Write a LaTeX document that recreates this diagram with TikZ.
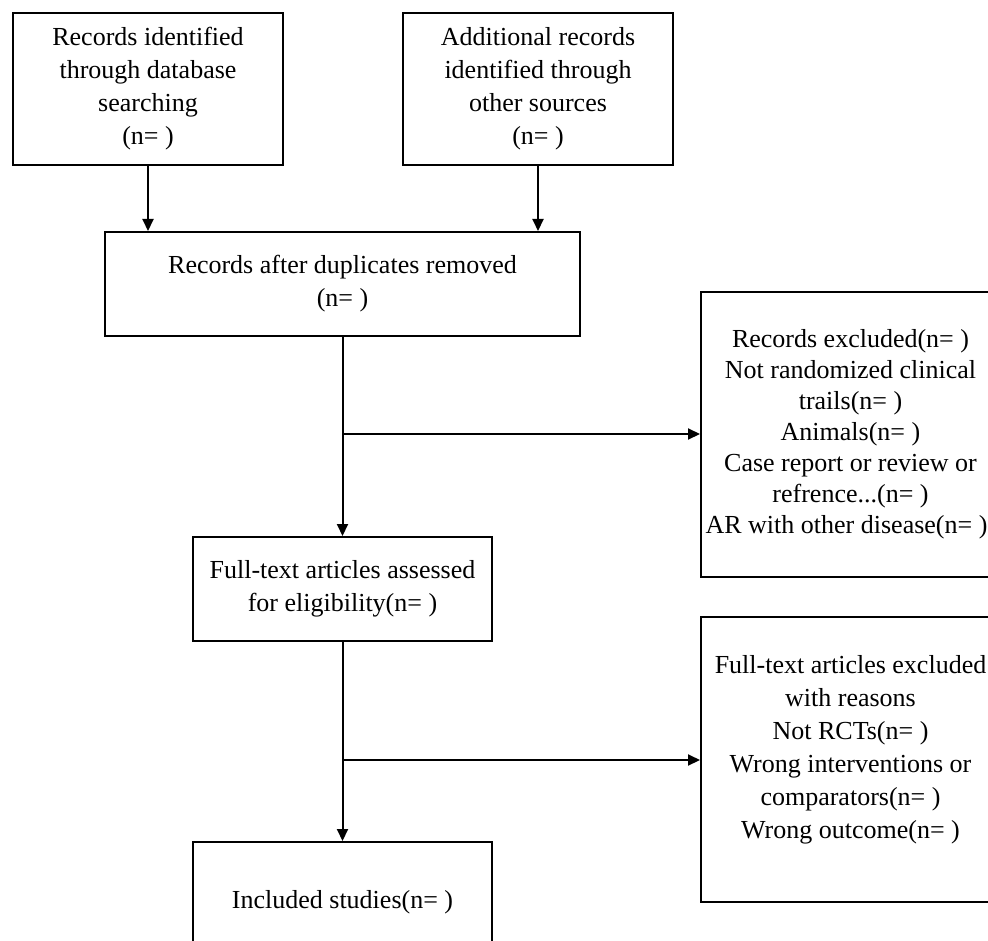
\documentclass[tikz,border=0pt]{standalone}
\usepackage{fontspec}
\setmainfont{Liberation Serif}
\usetikzlibrary{arrows.meta}

\begin{document}
\begin{tikzpicture}[x=0.5pt, y=-0.5pt,
	box/.style={draw, line width=1pt, inner sep=0pt, align=center,
		font=\fontsize{13pt}{16.5pt}\selectfont},
	arr/.style={line width=1pt, -{Triangle[length=6pt, width=5.5pt]}}]
	\clip (0,0) rectangle (988,940);

	\node[box, minimum width=135pt, minimum height=76pt] (1) at (148, 89)
		{Records identified\\through database\\searching\\(n= )};
	\node[box, minimum width=135pt, minimum height=76pt] (2) at (538, 89)
		{Additional records\\identified through\\other sources\\(n= )};
	\node[box, minimum width=237.5pt, minimum height=52pt] (3) at (342.5, 284)
		{Records after duplicates removed\\(n= )};
	\node[box, minimum width=149.5pt, minimum height=142.5pt,
		font=\fontsize{13pt}{15.5pt}\selectfont] (4) at (850.5, 434.5)
		{Records excluded(n= )\\Not randomized clinical\\trails(n= )\\Animals(n= )\\Case report or review or\\refrence...(n= )\\AR with other disease(n= )\hspace*{4pt}};
	\node[box, minimum width=149.5pt, minimum height=52pt] (5) at (342.5, 589)
		{Full-text articles assessed\\for eligibility(n= )};
	\node[box, minimum width=149.5pt, minimum height=142.5pt] (6) at (850.5, 759.5)
		{Full-text articles excluded\\with reasons\\Not RCTs(n= )\\Wrong interventions or\\comparators(n= )\\Wrong outcome(n= )\\[-4pt]};
	\node[box, minimum width=149.5pt, minimum height=60pt] (7) at (342.5, 902)
		{Included studies(n= )};

	\coordinate (b1) at (342.5, 434);
	\coordinate (b2) at (342.5, 760);

	\draw[arr] (1.south) -- (1.south |- 3.north);
	\draw[arr] (2.south) -- (2.south |- 3.north);
	\draw[arr] (3) -- (5);
	\draw[arr] (b1) -- (b1 -| 4.west);
	\draw[arr] (5) -- (7);
	\draw[arr] (b2) -- (b2 -| 6.west);
\end{tikzpicture}
\end{document}
